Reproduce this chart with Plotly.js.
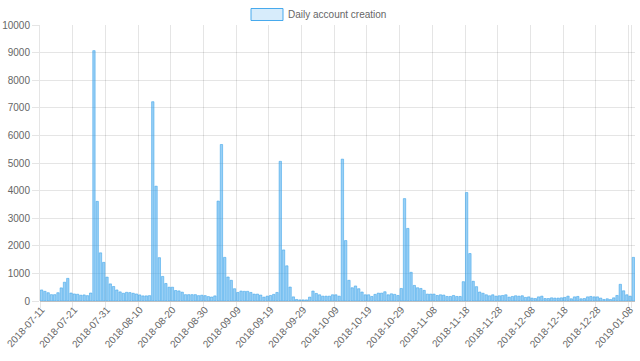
<!DOCTYPE html>
<html>
<head>
<meta charset="utf-8">
<script src="https://cdn.plot.ly/plotly-3.0.1.min.js"></script>
<style>html,body{margin:0;padding:0;background:#fff;}#chart{width:640px;height:361px;}</style>
</head>
<body>
<div id="chart"></div>
<script>
// Categories (dates as shown by the source data; one day missing around New Year)
const datesJul = ["2018-07-11","2018-07-12","2018-07-13","2018-07-14","2018-07-15","2018-07-16","2018-07-17","2018-07-18","2018-07-19","2018-07-20","2018-07-21","2018-07-22","2018-07-23","2018-07-24","2018-07-25","2018-07-26","2018-07-27","2018-07-28","2018-07-29","2018-07-30","2018-07-31"];
const datesAug = ["2018-08-01","2018-08-02","2018-08-03","2018-08-04","2018-08-05","2018-08-06","2018-08-07","2018-08-08","2018-08-09","2018-08-10","2018-08-11","2018-08-12","2018-08-13","2018-08-14","2018-08-15","2018-08-16","2018-08-17","2018-08-18","2018-08-19","2018-08-20","2018-08-21","2018-08-22","2018-08-23","2018-08-24","2018-08-25","2018-08-26","2018-08-27","2018-08-28","2018-08-29","2018-08-30","2018-08-31"];
const datesSep = ["2018-09-01","2018-09-02","2018-09-03","2018-09-04","2018-09-05","2018-09-06","2018-09-07","2018-09-08","2018-09-09","2018-09-10","2018-09-11","2018-09-12","2018-09-13","2018-09-14","2018-09-15","2018-09-16","2018-09-17","2018-09-18","2018-09-19","2018-09-20","2018-09-21","2018-09-22","2018-09-23","2018-09-24","2018-09-25","2018-09-26","2018-09-27","2018-09-28","2018-09-29","2018-09-30"];
const datesOct = ["2018-10-01","2018-10-02","2018-10-03","2018-10-04","2018-10-05","2018-10-06","2018-10-07","2018-10-08","2018-10-09","2018-10-10","2018-10-11","2018-10-12","2018-10-13","2018-10-14","2018-10-15","2018-10-16","2018-10-17","2018-10-18","2018-10-19","2018-10-20","2018-10-21","2018-10-22","2018-10-23","2018-10-24","2018-10-25","2018-10-26","2018-10-27","2018-10-28","2018-10-29","2018-10-30","2018-10-31"];
const datesNov = ["2018-11-01","2018-11-02","2018-11-03","2018-11-04","2018-11-05","2018-11-06","2018-11-07","2018-11-08","2018-11-09","2018-11-10","2018-11-11","2018-11-12","2018-11-13","2018-11-14","2018-11-15","2018-11-16","2018-11-17","2018-11-18","2018-11-19","2018-11-20","2018-11-21","2018-11-22","2018-11-23","2018-11-24","2018-11-25","2018-11-26","2018-11-27","2018-11-28","2018-11-29","2018-11-30"];
const datesDec = ["2018-12-01","2018-12-02","2018-12-03","2018-12-04","2018-12-05","2018-12-06","2018-12-07","2018-12-08","2018-12-09","2018-12-10","2018-12-11","2018-12-12","2018-12-13","2018-12-14","2018-12-15","2018-12-16","2018-12-17","2018-12-18","2018-12-19","2018-12-20","2018-12-21","2018-12-22","2018-12-23","2018-12-24","2018-12-25","2018-12-26","2018-12-27","2018-12-28","2018-12-29","2018-12-30","2018-12-31"];
const datesJan = ["2019-01-02","2019-01-03","2019-01-04","2019-01-05","2019-01-06","2019-01-07","2019-01-08","2019-01-09"];

// Daily account creation values
const accounts = [
  400,350,300,230,230,300,475,680,820,290,
  255,245,210,220,195,290,9070,3610,1745,1400,
  865,620,525,400,330,280,315,305,280,255,
  220,185,185,195,7220,4160,1570,890,635,500,
  500,380,365,320,230,230,230,230,195,210,
  195,160,145,185,3620,5670,1580,870,750,445,
  310,360,350,350,310,250,250,215,140,175,
  200,240,310,5060,1850,1275,505,150,55,40,
  40,40,140,360,275,225,175,175,175,225,
  225,175,5140,2190,750,480,545,445,325,225,
  225,165,240,285,285,335,225,260,240,200,
  455,3710,2630,1040,565,480,455,385,250,250,
  250,200,225,215,165,165,200,165,165,700,
  3930,1720,715,520,325,280,225,190,225,175,
  190,200,225,140,165,190,175,190,130,150,
  105,90,150,175,90,90,115,105,105,115,
  130,175,80,150,165,80,90,150,165,150,
  150,105,55,80,55,115,200,605,370,225,
  175,1580
];

const seriesName = "Daily account creation";
const yTicks = [0,1000,2000,3000,4000,5000,6000,7000,8000,9000,10000];

const dates = [].concat(datesJul, datesAug, datesSep, datesOct, datesNov, datesDec, datesJan);
// labels every 10th category (as the source chart's auto-skip)
const xTickVals = dates.filter((d, i) => i % 10 === 0);

const FONT = "'Liberation Sans', Arial, Helvetica, sans-serif";
const FS = 10;
const M = {l: 40, r: 5, t: 25, b: 60};
const W = 640, H = 361;
const pw = W - M.l - M.r, ph = H - M.t - M.b;
const px = v => (v - M.l) / pw;
const py = v => (H - M.b - v) / ph;

const trace = {
  type: 'bar',
  x: dates,
  y: accounts,
  name: seriesName,
  marker: {color: 'rgba(54,162,235,0.5)', line: {color: 'rgba(54,162,235,0.9)', width: 0.6}},
  hoverinfo: 'x+y'
};

const layout = {
  width: W, height: H,
  margin: M,
  paper_bgcolor: '#fff', plot_bgcolor: '#fff',
  font: {family: FONT, size: FS, color: '#666'},
  showlegend: false,
  bargap: 0.28,
  xaxis: {
    type: 'category',
    tickmode: 'array',
    tickvals: xTickVals,
    ticktext: xTickVals,
    tickson: 'boundaries',
    tickangle: -48,
    showgrid: true,
    gridcolor: 'rgba(0,0,0,0.1)',
    gridwidth: 1,
    ticks: 'outside', ticklen: 6, tickcolor: 'rgba(0,0,0,0.1)',
    tickfont: {family: FONT, size: FS, color: '#666'},
    showline: false,
    zeroline: false,
    fixedrange: true
  },
  yaxis: {
    range: [0, 10000],
    tickmode: 'array',
    tickvals: yTicks,
    ticktext: yTicks.map(String),
    showgrid: true,
    gridcolor: 'rgba(0,0,0,0.1)',
    zeroline: true,
    zerolinecolor: 'rgba(0,0,0,0.25)',
    zerolinewidth: 1,
    showline: true,
    linecolor: 'rgba(0,0,0,0.1)',
    ticks: 'outside', ticklen: 7, tickcolor: 'rgba(0,0,0,0.1)',
    tickfont: {family: FONT, size: FS, color: '#666'},
    fixedrange: true
  },
  shapes: [{
    type: 'rect', xref: 'paper', yref: 'paper',
    x0: px(251), x1: px(283), y0: py(20.5), y1: py(8.5),
    fillcolor: 'rgba(54,162,235,0.2)',
    line: {color: 'rgba(54,162,235,0.9)', width: 1}
  }],
  annotations: [{
    xref: 'paper', yref: 'paper',
    x: px(286), y: py(14.5), xanchor: 'left', yanchor: 'middle',
    text: seriesName, showarrow: false,
    font: {family: FONT, size: FS, color: '#666'}
  }]
};

Plotly.newPlot('chart', [trace], layout, {displayModeBar: false, staticPlot: true});
</script>
</body>
</html>
